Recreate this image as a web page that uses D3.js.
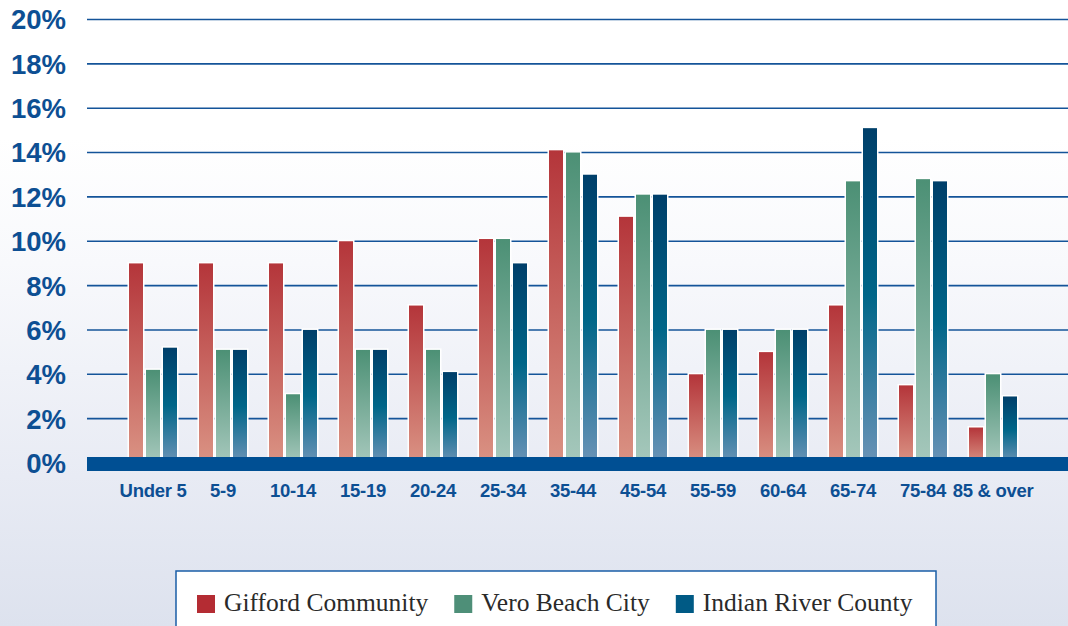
<!DOCTYPE html>
<html><head><meta charset="utf-8">
<script src="https://cdn.jsdelivr.net/npm/d3@7"></script>
<style>html,body{margin:0;padding:0;overflow:hidden;background:#fff}</style>
</head><body>
<svg id="chart" width="1068" height="626"></svg>
<script>
const categories = ["Under 5","5-9","10-14","15-19","20-24","25-34","35-44","45-54","55-59","60-64","65-74","75-84","85 & over"];
const seriesNames = ["Gifford Community","Vero Beach City","Indian River County"];
const gifford = [9.0, 9.0, 9.0, 10.0, 7.1, 10.1, 14.1, 11.1, 4.0, 5.0, 7.1, 3.5, 1.6];
const veroBeach = [4.2, 5.1, 3.1, 5.1, 5.1, 10.1, 14.0, 12.1, 6.0, 6.0, 12.7, 12.8, 4.0];
const indianRiver = [5.2, 5.1, 6.0, 5.1, 4.1, 9.0, 13.0, 12.1, 6.0, 6.0, 15.1, 12.7, 3.0];
const yTicks = [0, 2, 4, 6, 8, 10, 12, 14, 16, 18, 20];

const seriesValues = [gifford, veroBeach, indianRiver];
const gradStops = [
  [["0%","#b4353a"],["100%","#da9384"]],
  [["0%","#4c9075"],["100%","#a6c8bc"]],
  [["0%","#003f6a"],["50%","#006688"],["100%","#6a93b7"]]
];
const legendColors = ["#b42c33","#4e8f78","#005a85"];

const svg = d3.select("#chart");
const W = 1068, H = 626;
const defs = svg.append("defs");

const bg = defs.append("linearGradient").attr("id","bg").attr("x1",0).attr("y1",0).attr("x2",0).attr("y2",1);
[["0%","#ffffff"],["22%","#ffffff"],["42%","#f8f9fc"],["76%","#e8ebf4"],["100%","#dde2ee"]]
  .forEach(s => bg.append("stop").attr("offset", s[0]).attr("stop-color", s[1]));
svg.append("rect").attr("width", W).attr("height", H).attr("fill","url(#bg)");

gradStops.forEach((stops, i) => {
  const g = defs.append("linearGradient").attr("id","g"+i).attr("x1",0).attr("y1",0).attr("x2",0).attr("y2",1);
  stops.forEach(s => g.append("stop").attr("offset", s[0]).attr("stop-color", s[1]));
});

const plotLeft = 87, plotRight = 1068;
const y = d3.scaleLinear().domain([0, 20]).range([463, 19.5]);
const x = d3.scaleBand().domain(categories).range([118, 1028]).paddingInner(0).paddingOuter(0);
const xs = d3.scaleBand().domain(d3.range(3)).range([x.bandwidth()/2 - 24, x.bandwidth()/2 + 24]).paddingInner(3/17).paddingOuter(0);

// gridlines
svg.append("g").selectAll("line").data(yTicks.filter(t => t > 0)).join("line")
  .attr("x1", plotLeft).attr("x2", plotRight)
  .attr("y1", d => y(d)).attr("y2", d => y(d))
  .attr("stroke", "#145499").attr("stroke-width", 1.6);

// y tick labels
svg.append("g").selectAll("text").data(yTicks).join("text")
  .attr("x", 66).attr("y", d => y(d)).attr("dy", "0.36em")
  .attr("text-anchor", "end")
  .attr("font-family", "'Liberation Sans', Arial, sans-serif")
  .attr("font-weight", "bold").attr("font-size", 27.5)
  .attr("fill", "#0d4f93")
  .text(d => d + "%");

// bars
const groups = svg.append("g").selectAll("g").data(categories).join("g")
  .attr("transform", d => `translate(${x(d)},0)`);
seriesValues.forEach((vals, si) => {
  groups.append("rect")
    .attr("x", xs(si) - 1.5).attr("width", xs.bandwidth() + 3)
    .attr("y", (d, i) => y(vals[i]) - 1.5).attr("height", (d, i) => y(0) - y(vals[i]) + 1.5)
    .attr("fill", "#ffffff");
});
seriesValues.forEach((vals, si) => {
  groups.append("rect")
    .attr("x", xs(si)).attr("width", xs.bandwidth())
    .attr("y", (d, i) => y(vals[i])).attr("height", (d, i) => y(0) - y(vals[i]))
    .attr("fill", `url(#g${si})`);
});

// baseline bar
svg.append("rect").attr("x", plotLeft).attr("width", plotRight - plotLeft)
  .attr("y", y(0) - 6).attr("height", 14).attr("fill", "#004f93");

// x labels
svg.append("g").selectAll("text").data(categories).join("text")
  .attr("x", d => x(d) + x.bandwidth()/2).attr("y", 497)
  .attr("text-anchor", "middle")
  .attr("font-family", "'Liberation Sans', Arial, sans-serif")
  .attr("font-weight", "bold").attr("font-size", 18.5)
  .attr("letter-spacing", -0.3)
  .attr("fill", "#0d4f93")
  .text(d => d);

// legend
svg.append("rect").attr("x", 176).attr("y", 571).attr("width", 760).attr("height", 70)
  .attr("fill", "#ffffff").attr("stroke", "#1a5ea6").attr("stroke-width", 1.5);
let lx = 197;
seriesNames.forEach((name, i) => {
  svg.append("rect").attr("x", lx).attr("y", 595).attr("width", 18).attr("height", 18)
    .attr("fill", legendColors[i]);
  const t = svg.append("text").attr("x", lx + 27).attr("y", 611)
    .attr("font-family", "'Liberation Serif', 'Times New Roman', serif")
    .attr("font-size", 25.5).attr("fill", "#2a2a2a").text(name);
  lx = lx + 27 + t.node().getComputedTextLength() + 26;
});
</script>
</body></html>
